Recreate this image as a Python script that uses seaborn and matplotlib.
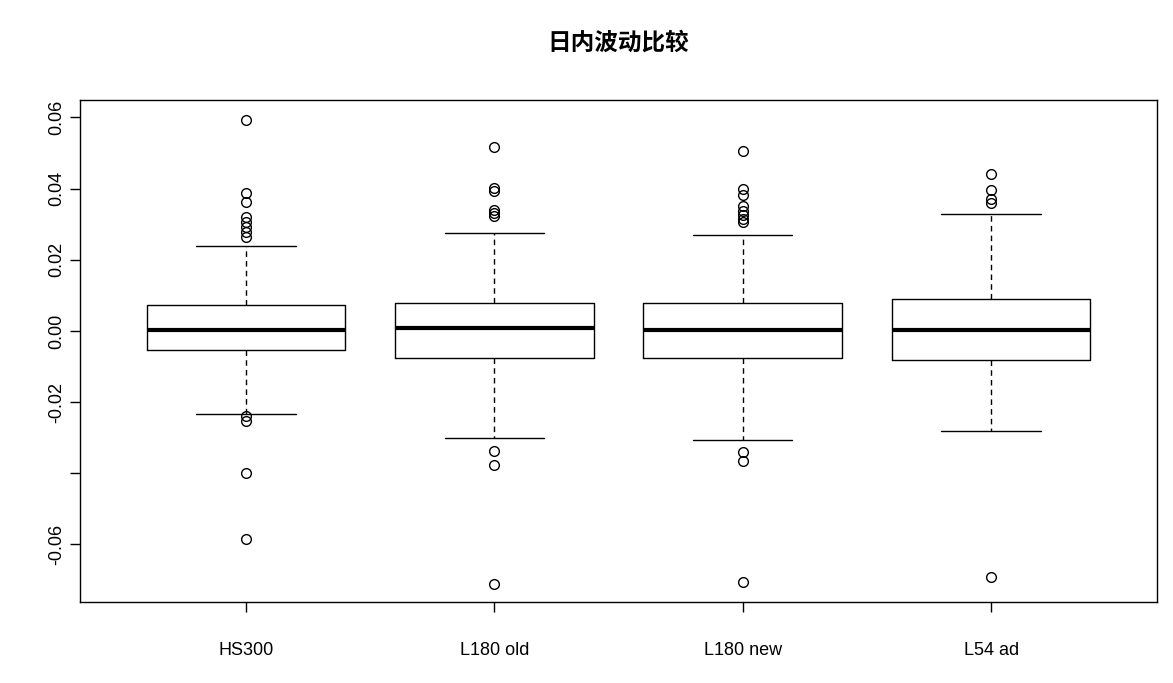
import matplotlib
matplotlib.use("Agg")
import matplotlib.pyplot as plt
import seaborn as sns

sns.set_style("white")
plt.rcParams['font.family'] = ['Liberation Sans', 'Noto Sans CJK SC', 'DejaVu Sans']
plt.rcParams['text.color'] = 'black'
plt.rcParams['xtick.color'] = 'black'
plt.rcParams['ytick.color'] = 'black'

categories = ["HS300", "L180 old", "L180 new", "L54 ad"]
whisker_low = [-0.0233, -0.0301, -0.0306, -0.0281]
q1 = [-0.0053, -0.0076, -0.0076, -0.0082]
median = [0.0003, 0.0008, 0.0003, 0.0003]
q3 = [0.0073, 0.0079, 0.0079, 0.0090]
whisker_high = [0.0239, 0.0276, 0.0270, 0.0329]
outliers_hs300 = [0.0593, 0.0388, 0.0363, 0.0320, 0.0306, 0.0292, 0.0278, 0.0264,
                  -0.0239, -0.0253, -0.0399, -0.0585]
outliers_l180_old = [0.0517, 0.0402, 0.0394, 0.0340, 0.0332, 0.0323,
                     -0.0337, -0.0377, -0.0711]
outliers_l180_new = [0.0506, 0.0399, 0.0382, 0.0351, 0.0337, 0.0326, 0.0315, 0.0306,
                     -0.0340, -0.0365, -0.0706]
outliers_l54_ad = [0.0441, 0.0396, 0.0371, 0.0360, -0.0692]
outliers = [outliers_hs300, outliers_l180_old, outliers_l180_new, outliers_l54_ad]
yticks = [-0.06, -0.04, -0.02, 0.00, 0.02, 0.04, 0.06]
ytick_labels = ["-0.06", "", "-0.02", "0.00", "0.02", "0.04", "0.06"]

stats = []
for i, c in enumerate(categories):
    stats.append(dict(label=c, whislo=whisker_low[i], q1=q1[i], med=median[i],
                      q3=q3[i], whishi=whisker_high[i], fliers=outliers[i]))

fig = plt.figure(figsize=(11.73, 6.83), dpi=100)
ax = fig.add_axes([80/1173, 1-602/683, (1157-80)/1173, (602-100)/683])
ax.bxp(stats, positions=[1, 2, 3, 4], widths=0.8, capwidths=0.4,
       boxprops=dict(color="black", linewidth=1),
       whiskerprops=dict(color="black", linestyle=(0, (4, 3)), linewidth=1),
       capprops=dict(color="black", linewidth=1),
       medianprops=dict(color="black", linewidth=3),
       flierprops=dict(marker="o", markerfacecolor="none", markeredgecolor="black",
                       markersize=7, markeredgewidth=1))
ax.set_xlim(0.331, 4.668)
ax.set_ylim(-0.0762, 0.0649)
ax.set_yticks(yticks)
ax.set_yticklabels(ytick_labels, rotation=90, va="center", fontsize=13)
ax.set_xticks([1, 2, 3, 4])
ax.set_xticklabels(categories, fontsize=13)
ax.tick_params(axis="both", direction="out", length=7, width=1, color="black",
               left=True, bottom=True, labelcolor="black")
ax.tick_params(axis="x", pad=22)
for s in ax.spines.values():
    s.set_color("black"); s.set_linewidth(1)
fig.text(618/1173, 1-43/683, "日内波动比较", ha="center", va="center",
         fontsize=17, fontweight="bold", color="black", family=["Noto Sans CJK SC"])
fig.savefig("out.png", dpi=100)
